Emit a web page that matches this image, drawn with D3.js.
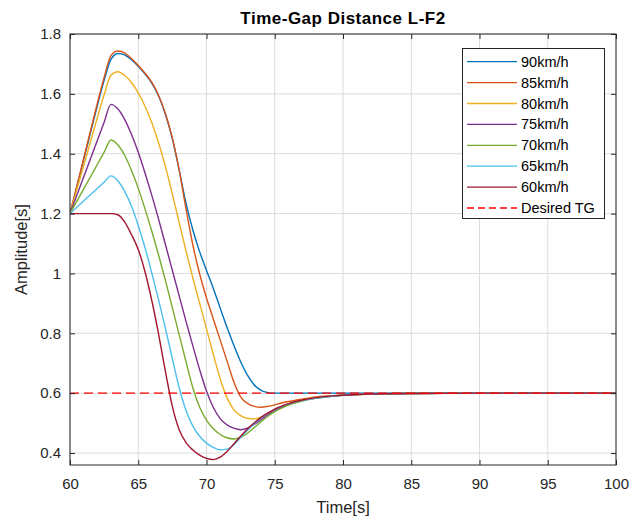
<!DOCTYPE html>
<html>
<head>
<meta charset="utf-8">
<script src="https://cdn.jsdelivr.net/npm/d3@7"></script>
<style>
  html, body { margin: 0; padding: 0; background: #ffffff; }
  svg { display: block; font-family: "Liberation Sans", Arial, Helvetica, sans-serif; }
</style>
</head>
<body>
<svg id="chart" width="633" height="521"></svg>
<script>
// ---------------- DATA ----------------
const time = [60, 60.5, 61, 61.5, 62, 62.5, 63, 63.5, 64, 64.5, 65, 65.5, 66, 66.5, 67, 67.5,
  68, 68.5, 69, 69.5, 70, 70.5, 71, 71.5, 72, 72.5, 73, 73.5, 74, 74.5, 75, 75.5, 76,
  77, 78, 79, 80, 82, 85, 90, 100];

const v90 = [1.2, 1.29, 1.38, 1.47, 1.56, 1.645, 1.715, 1.735, 1.73, 1.714, 1.692, 1.666, 1.635, 1.592, 1.53, 1.45,
  1.345, 1.235, 1.145, 1.072, 1.01, 0.95, 0.885, 0.82, 0.76, 0.705, 0.66, 0.627, 0.609, 0.602, 0.6, 0.6, 0.6,
  0.6, 0.6, 0.6, 0.6, 0.6, 0.6, 0.6, 0.6];
const v85 = [1.2, 1.292, 1.384, 1.476, 1.568, 1.655, 1.728, 1.743, 1.737, 1.718, 1.695, 1.669, 1.638, 1.594, 1.533, 1.452,
  1.345, 1.215, 1.095, 0.998, 0.918, 0.848, 0.778, 0.708, 0.638, 0.588, 0.566, 0.556, 0.553, 0.556, 0.561, 0.567, 0.572,
  0.58, 0.587, 0.591, 0.594, 0.597, 0.599, 0.6, 0.6];
const v80 = [1.2, 1.28, 1.36, 1.44, 1.52, 1.597, 1.662, 1.674, 1.662, 1.638, 1.603, 1.558, 1.503, 1.435, 1.355, 1.265,
  1.17, 1.075, 0.985, 0.9, 0.815, 0.73, 0.648, 0.585, 0.545, 0.525, 0.516, 0.514, 0.52, 0.532, 0.545, 0.555, 0.564,
  0.577, 0.585, 0.59, 0.593, 0.597, 0.599, 0.6, 0.6];
const v75 = [1.2, 1.261, 1.322, 1.383, 1.444, 1.505, 1.565, 1.55, 1.515, 1.465, 1.405, 1.335, 1.26, 1.18, 1.095, 1.01,
  0.925, 0.84, 0.758, 0.678, 0.607, 0.552, 0.515, 0.494, 0.483, 0.478, 0.483, 0.496, 0.512, 0.528, 0.542, 0.553, 0.562,
  0.575, 0.584, 0.589, 0.593, 0.597, 0.599, 0.6, 0.6];
const v70 = [1.2, 1.241, 1.282, 1.323, 1.364, 1.405, 1.446, 1.43, 1.395, 1.345, 1.285, 1.215, 1.14, 1.06, 0.975, 0.885,
  0.795, 0.705, 0.618, 0.553, 0.51, 0.481, 0.462, 0.451, 0.447, 0.452, 0.466, 0.485, 0.505, 0.523, 0.538, 0.55, 0.56,
  0.574, 0.583, 0.589, 0.593, 0.597, 0.599, 0.6, 0.6];
const v65 = [1.2, 1.221, 1.242, 1.263, 1.284, 1.305, 1.326, 1.31, 1.275, 1.225, 1.16, 1.085, 1.0, 0.91, 0.815, 0.715,
  0.618, 0.542, 0.49, 0.456, 0.433, 0.419, 0.411, 0.413, 0.428, 0.452, 0.476, 0.498, 0.517, 0.533, 0.546, 0.556, 0.564,
  0.576, 0.584, 0.589, 0.593, 0.597, 0.599, 0.6, 0.6];
const v60 = [1.2, 1.2, 1.2, 1.2, 1.2, 1.2, 1.2, 1.196, 1.172, 1.13, 1.08, 1.005, 0.908, 0.795, 0.67, 0.555,
  0.478, 0.435, 0.41, 0.393, 0.382, 0.378, 0.386, 0.405, 0.43, 0.456, 0.48, 0.501, 0.519, 0.534, 0.547, 0.557, 0.565,
  0.577, 0.585, 0.59, 0.593, 0.597, 0.599, 0.6, 0.6];

const desiredTime = [60, 100];
const desiredValue = [0.6, 0.6];

const seriesNames = ["90km/h", "85km/h", "80km/h", "75km/h", "70km/h", "65km/h", "60km/h"];
const seriesValues = [v90, v85, v80, v75, v70, v65, v60];
const seriesColors = ["#0072BD", "#D95319", "#EDB120", "#7E2F8E", "#77AC30", "#4DBEEE", "#A2142F"];
const desiredName = "Desired TG";
const desiredColor = "#FF0000";

const xTicks = [60, 65, 70, 75, 80, 85, 90, 95, 100];
const yTicks = [0.4, 0.6, 0.8, 1.0, 1.2, 1.4, 1.6, 1.8];
const titleText = "Time-Gap Distance L-F2";
const xLabel = "Time[s]";
const yLabel = "Amplitude[s]";

// ---------------- LAYOUT ----------------
const plot = { left: 70, right: 616, top: 34, bottom: 465 };
const x = d3.scaleLinear().domain([60, 100]).range([plot.left, plot.right]);
const y = d3.scaleLinear().domain([0.36, 1.8]).range([plot.bottom, plot.top]);
const axisColor = "#262626";

const svg = d3.select("#chart");
svg.append("rect").attr("width", 633).attr("height", 521).attr("fill", "#ffffff");

// Grid
const grid = svg.append("g");
grid.selectAll("line.gx").data(xTicks).join("line")
  .attr("x1", d => x(d)).attr("x2", d => x(d))
  .attr("y1", plot.top).attr("y2", plot.bottom)
  .attr("stroke", "#dcdcdc").attr("stroke-width", 1);
grid.selectAll("line.gy").data(yTicks).join("line")
  .attr("x1", plot.left).attr("x2", plot.right)
  .attr("y1", d => y(d)).attr("y2", d => y(d))
  .attr("stroke", "#dcdcdc").attr("stroke-width", 1);

// Lines
const clipId = "plotclip";
svg.append("clipPath").attr("id", clipId).append("rect")
  .attr("x", plot.left).attr("y", plot.top)
  .attr("width", plot.right - plot.left).attr("height", plot.bottom - plot.top);

const line = d3.line().x(d => x(d[0])).y(d => y(d[1])).curve(d3.curveMonotoneX);
const lines = svg.append("g").attr("clip-path", `url(#${clipId})`);
seriesValues.forEach((vals, i) => {
  lines.append("path")
    .datum(time.map((t, k) => [t, vals[k]]))
    .attr("fill", "none")
    .attr("stroke", seriesColors[i])
    .attr("stroke-width", 1.4)
    .attr("stroke-linejoin", "round")
    .attr("d", line);
});
lines.append("path")
  .datum(desiredTime.map((t, k) => [t, desiredValue[k]]))
  .attr("fill", "none")
  .attr("stroke", desiredColor)
  .attr("stroke-width", 1.4)
  .attr("stroke-dasharray", "9,5")
  .attr("d", line);

// Axes
const fmtY = d => String(+d.toFixed(1));
const fontSize = 15;
const gx = svg.append("g").attr("transform", `translate(0,${plot.bottom})`)
  .call(d3.axisBottom(x).tickValues(xTicks).tickSize(-5).tickSizeOuter(0).tickPadding(13).tickFormat(d3.format("d")));
const gy = svg.append("g").attr("transform", `translate(${plot.left},0)`)
  .call(d3.axisLeft(y).tickValues(yTicks).tickSize(-5).tickSizeOuter(0).tickPadding(9).tickFormat(fmtY));
const gxt = svg.append("g").attr("transform", `translate(0,${plot.top})`)
  .call(d3.axisTop(x).tickValues(xTicks).tickSize(-5).tickSizeOuter(0).tickFormat(""));
const gyr = svg.append("g").attr("transform", `translate(${plot.right},0)`)
  .call(d3.axisRight(y).tickValues(yTicks).tickSize(-5).tickSizeOuter(0).tickFormat(""));
[gx, gy, gxt, gyr].forEach(g => {
  g.select(".domain").remove();
  g.selectAll(".tick line").attr("stroke", axisColor);
  g.selectAll(".tick text").attr("fill", axisColor)
    .style("font-family", "'Liberation Sans', Arial, sans-serif")
    .style("font-size", fontSize + "px");
});

// Box
svg.append("rect")
  .attr("x", plot.left).attr("y", plot.top)
  .attr("width", plot.right - plot.left).attr("height", plot.bottom - plot.top)
  .attr("fill", "none").attr("stroke", axisColor).attr("stroke-width", 1);

// Title and labels
svg.append("text")
  .attr("x", (plot.left + plot.right) / 2).attr("y", 24)
  .attr("text-anchor", "middle")
  .attr("font-weight", "bold").attr("font-size", 17)
  .attr("letter-spacing", 0.5)
  .attr("fill", "#000000")
  .text(titleText);
svg.append("text")
  .attr("x", (plot.left + plot.right) / 2).attr("y", 513)
  .attr("text-anchor", "middle")
  .attr("font-size", 16.5)
  .attr("fill", axisColor)
  .text(xLabel);
svg.append("text")
  .attr("transform", `translate(27,${(plot.top + plot.bottom) / 2}) rotate(-90)`)
  .attr("text-anchor", "middle")
  .attr("font-size", 16.5)
  .attr("fill", axisColor)
  .text(yLabel);

// Legend
const legend = { x: 462, y: 48, w: 142, h: 170, row0: 61.7, rowStep: 20.9 };
const lg = svg.append("g");
lg.append("rect")
  .attr("x", legend.x + 0.5).attr("y", legend.y + 0.5)
  .attr("width", legend.w).attr("height", legend.h)
  .attr("fill", "#ffffff").attr("stroke", axisColor).attr("stroke-width", 1);
const legendItems = seriesNames.map((n, i) => ({ name: n, color: seriesColors[i], dash: null }))
  .concat([{ name: desiredName, color: desiredColor, dash: "7,4" }]);
const rows = lg.selectAll("g.row").data(legendItems).join("g")
  .attr("transform", (d, i) => `translate(0,${legend.row0 + i * legend.rowStep})`);
rows.append("line")
  .attr("x1", legend.x + 5).attr("x2", legend.x + 55)
  .attr("y1", 0).attr("y2", 0)
  .attr("stroke", d => d.color).attr("stroke-width", 1.3)
  .attr("stroke-dasharray", d => d.dash);
rows.append("text")
  .attr("x", legend.x + 59).attr("y", 5)
  .attr("font-size", 14.5).attr("fill", "#000000")
  .text(d => d.name);
</script>
</body>
</html>
